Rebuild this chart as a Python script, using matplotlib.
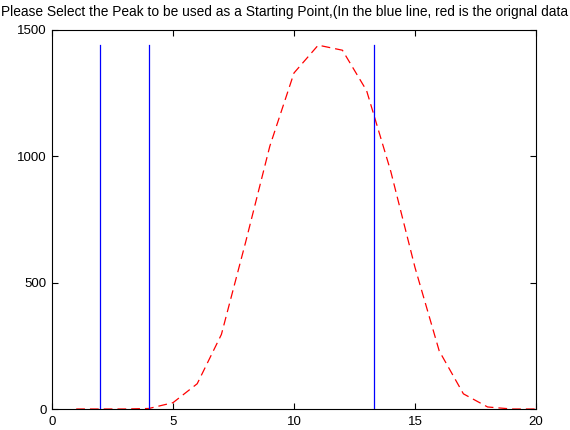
import numpy as np
import matplotlib
matplotlib.use("Agg")
import matplotlib.pyplot as plt

plt.rcParams['font.family'] = ['Liberation Sans', 'DejaVu Sans']

# original data (red) and the candidate starting peaks (blue)
x = np.arange(1, 21)
counts = [0, 0, 0, 2, 25, 100, 295, 660, 1040, 1330,
          1440, 1420, 1260, 940, 560, 230, 60, 8, 0, 0]
peaks = [2, 4, 13.3]

title = "Please Select the Peak to be used as a Starting Point,(In the blue line, red is the orignal data"

fig = plt.figure(figsize=(5.7, 4.3), dpi=100)
ax = fig.add_axes([52 / 570, 21 / 430, 484 / 570, 379 / 430])

ax.plot(x, counts, "r--", lw=0.9, dashes=(7, 4))
top = max(counts)
for p in peaks:
    ax.plot([p, p], [0, top], "b-", lw=0.9)

ax.set_xlim(0, 20)
ax.set_ylim(0, 1500)
ax.set_xticks([0, 5, 10, 15, 20])
ax.set_yticks([0, 500, 1000, 1500])
ax.tick_params(direction="in", length=4, width=0.8, labelsize=9.5,
               top=True, right=True, pad=4)
ax.tick_params(axis="x", pad=5)
for s in ax.spines.values():
    s.set_linewidth(0.8)

# title is wider than the axes, so centre it on the figure
fig.text(0.5, 1 - 12 / 430, title, fontsize=9.9, ha="center", va="center")

fig.savefig("out.png", dpi=100)
